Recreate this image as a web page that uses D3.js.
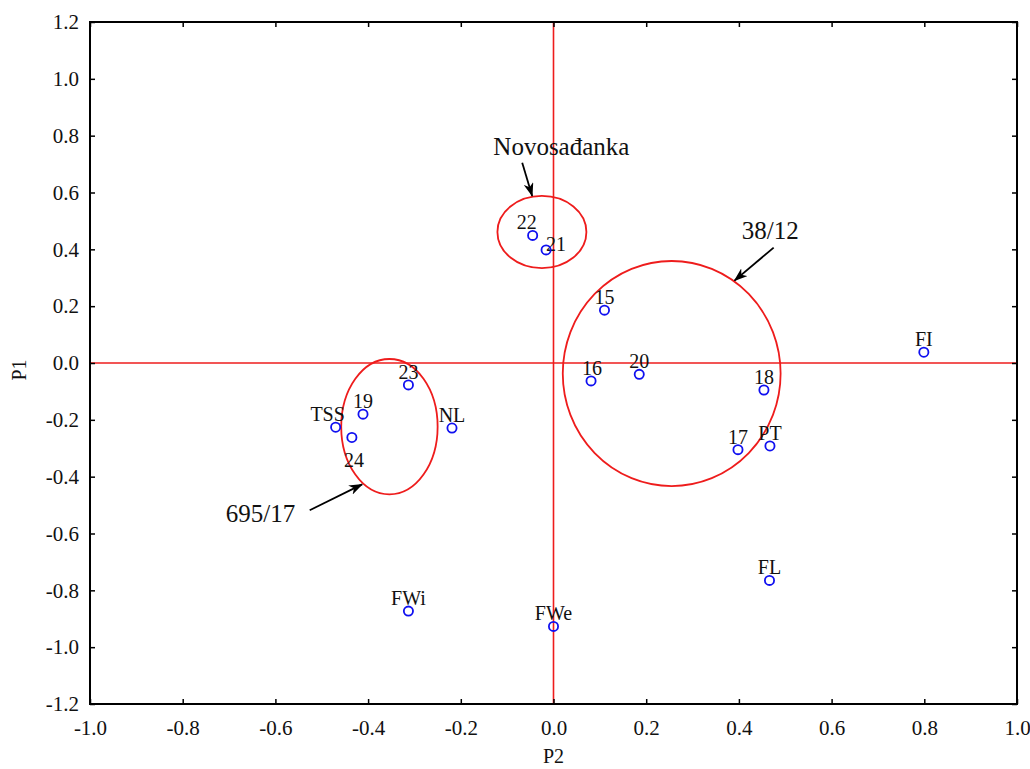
<!DOCTYPE html>
<html>
<head>
<meta charset="utf-8">
<script src="https://cdn.jsdelivr.net/npm/d3@7"></script>
<style>
    body { margin: 0; background: #fff; }
    svg text { font-family: "Liberation Serif", "Times New Roman", serif; fill: #111; }
</style>
</head>
<body>
<div id="myfigure"></div>
<script>
// point names and loadings
var names = ['22', '21', '15', '16', '20', '18', '17', 'PT', 'FI', 'FL', 'FWe', 'FWi', '23', '19', 'TSS', '24', 'NL'];
var p2 = [-0.045, -0.016, 0.110, 0.081, 0.185, 0.454, 0.398, 0.467, 0.799, 0.466, 0.000, -0.313, -0.313, -0.411, -0.470, -0.435, -0.219];
var p1 = [0.449, 0.398, 0.186, -0.063, -0.040, -0.095, -0.305, -0.292, 0.038, -0.765, -0.927, -0.873, -0.077, -0.180, -0.226, -0.262, -0.229];

// groups drawn as ellipses (centre and radii in axis units)
var groups = ['Novosađanka', '38/12', '695/17'];
var groupCx = [-0.025, 0.255, -0.354];
var groupCy = [0.461, -0.037, -0.224];
var groupRx = [0.096, 0.235, 0.104];
var groupRy = [0.127, 0.396, 0.238];
// label anchor and arrow (tail -> tip) for each group
var labelX = [0.017, 0.4675, -0.632];
var labelY = [0.732, 0.436, -0.558];
var arrowFrom = [[-0.0675, 0.705], [0.475, 0.406], [-0.526, -0.518]];
var arrowTo = [[-0.046, 0.588], [0.3905, 0.290], [-0.413, -0.427]];

var xTicks = [-1.0, -0.8, -0.6, -0.4, -0.2, 0.0, 0.2, 0.4, 0.6, 0.8, 1.0];
var yTicks = [-1.2, -1.0, -0.8, -0.6, -0.4, -0.2, 0.0, 0.2, 0.4, 0.6, 0.8, 1.0, 1.2];

var width = 1030;
var height = 769;
var margin = { left: 90, right: 13, top: 22, bottom: 65 };
var serif = '"Liberation Serif", "Times New Roman", serif';

var svg = d3.select('#myfigure').
    append('svg').
    attr('width', width).
    attr('height', height);

var xScale = d3.scaleLinear().
    domain([-1, 1]).
    range([margin.left, width - margin.right]);

var yScale = d3.scaleLinear().
    domain([-1.2, 1.2]).
    range([height - margin.bottom, margin.top]);

var x0 = xScale.range()[0], x1 = xScale.range()[1];
var y0 = yScale.range()[1], y1 = yScale.range()[0];

// arrow head
svg.append('defs').
    append('marker').
    attr('id', 'head').
    attr('viewBox', '0 0 14 10').
    attr('refX', 13).
    attr('refY', 5).
    attr('markerWidth', 14).
    attr('markerHeight', 10).
    attr('markerUnits', 'userSpaceOnUse').
    attr('orient', 'auto').
    append('path').
    attr('d', 'M0,0 L14,5 L0,10 L4,5 Z').
    attr('fill', '#000');

// zero lines
svg.append('line').
    attr('x1', xScale(0)).attr('x2', xScale(0)).
    attr('y1', y0).attr('y2', y1).
    attr('stroke', '#ee1c1c').attr('stroke-width', 1.6);
svg.append('line').
    attr('x1', x0).attr('x2', x1).
    attr('y1', yScale(0)).attr('y2', yScale(0)).
    attr('stroke', '#ee1c1c').attr('stroke-width', 1.6);

// axes, ticks pointing inwards on all four sides
function fmt(d) { return d3.format('.1f')(d).replace('−', '-'); }

var xAxis = svg.append('g').
    attr('transform', 'translate(0,' + y1 + ')').
    call(d3.axisBottom(xScale).tickValues(xTicks).tickSize(-5).tickPadding(16).tickFormat(fmt));
var yAxis = svg.append('g').
    attr('transform', 'translate(' + x0 + ',0)').
    call(d3.axisLeft(yScale).tickValues(yTicks).tickSize(-5).tickPadding(11).tickFormat(fmt));
var xTop = svg.append('g').
    attr('transform', 'translate(0,' + y0 + ')').
    call(d3.axisTop(xScale).tickValues(xTicks).tickSize(-5).tickFormat(''));
var yRight = svg.append('g').
    attr('transform', 'translate(' + x1 + ',0)').
    call(d3.axisRight(yScale).tickValues(yTicks).tickSize(-5).tickFormat(''));

[xAxis, yAxis, xTop, yRight].forEach(function (g) {
    g.attr('font-family', null);
    g.select('.domain').remove();
    g.selectAll('.tick line').attr('stroke', '#000').attr('stroke-width', 1.5);
    g.selectAll('.tick text').
        style('font-family', serif).
        style('font-size', '21px').
        attr('fill', '#111');
});

// frame
svg.append('rect').
    attr('x', x0).attr('y', y0).
    attr('width', x1 - x0).attr('height', y1 - y0).
    attr('fill', 'none').
    attr('stroke', '#000').
    attr('stroke-width', 2);

// axis titles
svg.append('text').
    attr('x', (x0 + x1) / 2).
    attr('y', 763).
    attr('text-anchor', 'middle').
    style('font-family', serif).
    style('font-size', '20px').
    text('P2');
svg.append('text').
    attr('transform', 'translate(26,370) rotate(-90)').
    attr('text-anchor', 'middle').
    style('font-family', serif).
    style('font-size', '20px').
    text('P1');

// group ellipses
svg.selectAll('ellipse.group').
    data(groups).
    enter().
    append('ellipse').
    attr('class', 'group').
    attr('cx', function (d, i) { return xScale(groupCx[i]); }).
    attr('cy', function (d, i) { return yScale(groupCy[i]); }).
    attr('rx', function (d, i) { return xScale(groupRx[i]) - xScale(0); }).
    attr('ry', function (d, i) { return yScale(0) - yScale(groupRy[i]); }).
    attr('fill', 'none').
    attr('stroke', '#ee1c1c').
    attr('stroke-width', 1.8);

// group arrows and labels
svg.selectAll('line.arrow').
    data(groups).
    enter().
    append('line').
    attr('class', 'arrow').
    attr('x1', function (d, i) { return xScale(arrowFrom[i][0]); }).
    attr('y1', function (d, i) { return yScale(arrowFrom[i][1]); }).
    attr('x2', function (d, i) { return xScale(arrowTo[i][0]); }).
    attr('y2', function (d, i) { return yScale(arrowTo[i][1]); }).
    attr('stroke', '#000').
    attr('stroke-width', 1.8).
    attr('marker-end', 'url(#head)');

svg.selectAll('text.group').
    data(groups).
    enter().
    append('text').
    attr('class', 'group').
    attr('x', function (d, i) { return xScale(labelX[i]); }).
    attr('y', function (d, i) { return yScale(labelY[i]); }).
    attr('text-anchor', 'middle').
    style('font-family', serif).
    style('font-size', '25px').
    text(function (d) { return d; });

// label nudges in pixels (most labels sit right above their point)
var nudge = { '22': [-6, 0], '21': [10, 7], 'TSS': [-8, 0], '24': [2, 36], '16': [1, 0] };

svg.selectAll('text.pt').
    data(names).
    enter().
    append('text').
    attr('class', 'pt').
    attr('x', function (d, i) {
        var n = nudge[d] || [0, 0];
        return xScale(p2[i]) + n[0];
    }).
    attr('y', function (d, i) {
        var n = nudge[d] || [0, 0];
        return yScale(p1[i]) - 6 + n[1];
    }).
    attr('text-anchor', 'middle').
    style('font-family', serif).
    style('font-size', '20px').
    text(function (d) { return d; });

svg.selectAll('circle.pt').
    data(names).
    enter().
    append('circle').
    attr('class', 'pt').
    attr('cx', function (d, i) { return xScale(p2[i]); }).
    attr('cy', function (d, i) { return yScale(p1[i]); }).
    attr('r', 4.6).
    attr('fill', 'none').
    attr('stroke', '#1010f0').
    attr('stroke-width', 1.8);
</script>
</body>
</html>
